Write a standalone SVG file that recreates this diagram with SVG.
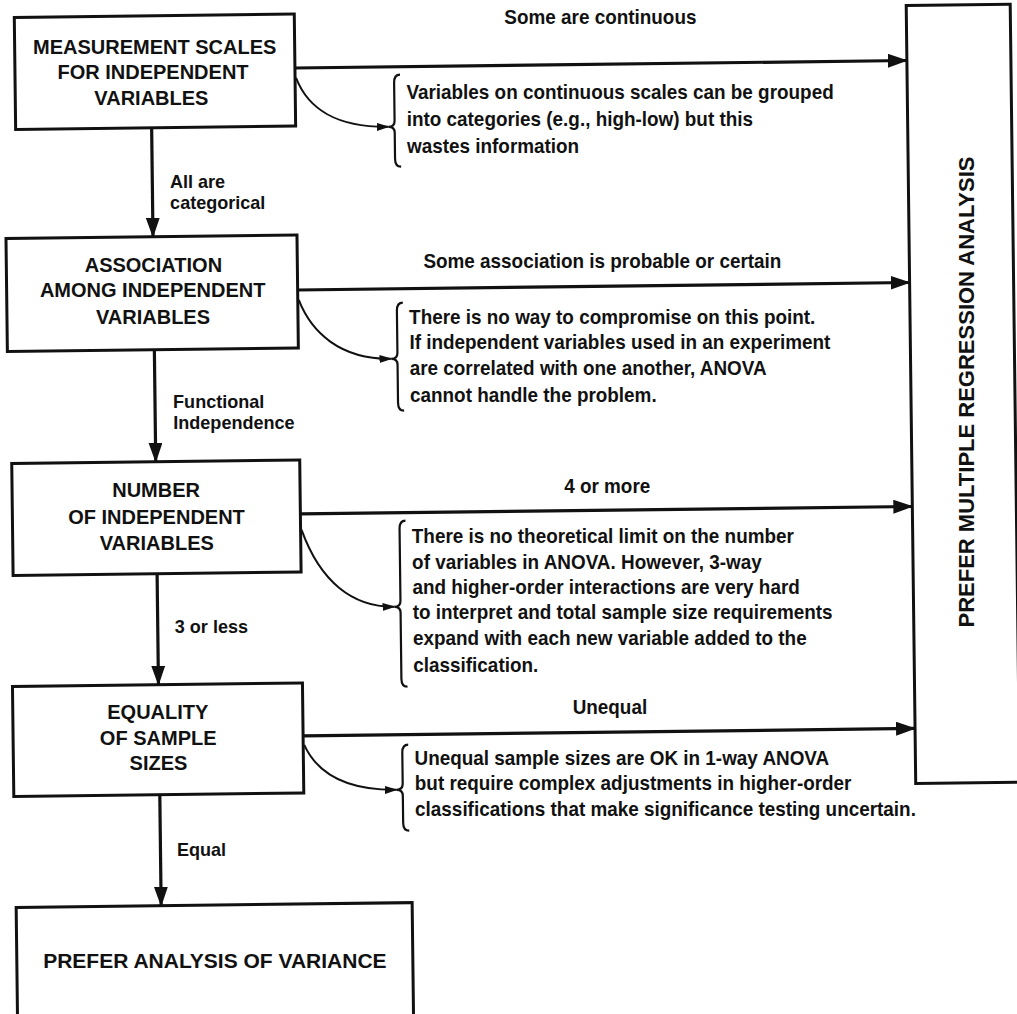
<svg xmlns="http://www.w3.org/2000/svg" width="1017" height="1014" viewBox="0 0 1017 1014">
<defs>
<marker id="ah" markerUnits="userSpaceOnUse" markerWidth="20" markerHeight="14" refX="19" refY="7" orient="auto"><path d="M0,0 L20,7 L0,14 z" fill="#111"/></marker>
<marker id="sh" markerUnits="userSpaceOnUse" markerWidth="13" markerHeight="8" refX="12" refY="4" orient="auto"><path d="M0,0 L13,4 L0,8 z" fill="#111"/></marker>
<style>
.box{fill:#fff;stroke:#111;stroke-width:3}
.bt{font-family:"Liberation Sans",Arial,sans-serif;font-weight:bold;font-size:20px;fill:#111;text-anchor:middle}
.lb{font-family:"Liberation Sans",Arial,sans-serif;font-weight:bold;font-size:21px;fill:#111}
.sl{font-family:"Liberation Sans",Arial,sans-serif;font-weight:bold;font-size:19px;fill:#111}
.main{stroke:#111;stroke-width:3.2;fill:none}
.curve{stroke:#111;stroke-width:2;fill:none}
.brace{stroke:#111;stroke-width:2.2;fill:none}
</style>
</defs>
<rect width="1017" height="1014" fill="#fff"/>
<g id="shapes" transform="rotate(-0.7 460 400)">
<g id="node-measurement"><rect class="box" x="19" y="12" width="280" height="112"/></g>
<g id="node-association"><rect class="box" x="8" y="233" width="291" height="113"/></g>
<g id="node-number"><rect class="box" x="11" y="458" width="288" height="112"/></g>
<g id="node-equality"><rect class="box" x="9" y="681" width="290" height="110"/></g>
<g id="node-anova"><rect class="box" x="10" y="902" width="396" height="140"/></g>
<g id="node-regression"><rect class="box" x="911" y="11" width="104" height="778"/></g>
<g id="braces">
<path class="brace" d="M404,74 Q398,74 398,82 L398,120 Q398,126 392,126 Q398,126 398,132 L398,158 Q398,166 404,166"/>
<path class="brace" d="M404,302 Q398,302 398,310 L398,352 Q398,358 392,358 Q398,358 398,364 L398,402 Q398,410 404,410"/>
<path class="brace" d="M404,520 Q398,520 398,528 L398,600 Q398,606 392,606 Q398,606 398,612 L398,678 Q398,686 404,686"/>
<path class="brace" d="M404,744 Q398,744 398,752 L398,783 Q398,789 392,789 Q398,789 398,795 L398,822 Q398,830 404,830"/>
</g>
<g id="connectors">
<path class="main" d="M155,124 L155,233" marker-end="url(#ah)"/>
<path class="main" d="M155,346 L155,458" marker-end="url(#ah)"/>
<path class="main" d="M155,570 L155,681" marker-end="url(#ah)"/>
<path class="main" d="M155,791 L155,902" marker-end="url(#ah)"/>
<path class="main" d="M299,66 L911,66" marker-end="url(#ah)"/>
<path class="main" d="M299,288 L911,288" marker-end="url(#ah)"/>
<path class="main" d="M299,512 L911,512" marker-end="url(#ah)"/>
<path class="main" d="M299,734 L911,734" marker-end="url(#ah)"/>
<path class="curve" d="M300,76 C312,108 340,126 392,126" marker-end="url(#sh)"/>
<path class="curve" d="M300,298 C312,330 340,358 392,358" marker-end="url(#sh)"/>
<path class="curve" d="M300,528 C318,580 350,606 392,606" marker-end="url(#sh)"/>
<path class="curve" d="M300,743 C312,770 340,789 392,789" marker-end="url(#sh)"/>
</g>
</g>
<g id="node-texts">
<text class="bt" x="154.7" y="53.7">MEASUREMENT SCALES</text>
<text class="bt" x="153" y="79.2">FOR INDEPENDENT</text>
<text class="bt" x="151.4" y="104.7">VARIABLES</text>
<text class="bt" x="153.4" y="271.7">ASSOCIATION</text>
<text class="bt" x="152.7" y="296.7">AMONG INDEPENDENT</text>
<text class="bt" x="153" y="323.7">VARIABLES</text>
<text class="bt" x="156.1" y="497.2">NUMBER</text>
<text class="bt" x="156.5" y="523.7">OF INDEPENDENT</text>
<text class="bt" x="156.8" y="550.2">VARIABLES</text>
<text class="bt" x="157.8" y="719.2">EQUALITY</text>
<text class="bt" x="158.2" y="745.2">OF SAMPLE</text>
<text class="bt" x="158.5" y="770.2">SIZES</text>
<text class="bt" x="214.9" y="967.6" style="font-size:21px">PREFER ANALYSIS OF VARIANCE</text>
<text class="bt" transform="translate(974 392) rotate(-90)" style="font-size:22px">PREFER MULTIPLE REGRESSION ANALYSIS</text>
</g>
<g id="note-texts">
<text class="lb" transform="translate(406.4 99) scale(0.9 1)">Variables on continuous scales can be grouped</text>
<text class="lb" transform="translate(406.7 125.5) scale(0.9 1)">into categories (e.g., high-low) but this</text>
<text class="lb" transform="translate(407 152.6) scale(0.9 1)">wastes information</text>
<text class="lb" transform="translate(409.1 324) scale(0.9 1)">There is no way to compromise on this point.</text>
<text class="lb" transform="translate(409.4 349.4) scale(0.9 1)">If independent variables used in an experiment</text>
<text class="lb" transform="translate(409.7 375.4) scale(0.9 1)">are correlated with one another, ANOVA</text>
<text class="lb" transform="translate(410 401.6) scale(0.9 1)">cannot handle the problem.</text>
<text class="lb" transform="translate(411.8 543.2) scale(0.9 1)">There is no theoretical limit on the number</text>
<text class="lb" transform="translate(412.1 568.5) scale(0.9 1)">of variables in ANOVA.  However, 3-way</text>
<text class="lb" transform="translate(412.4 593.7) scale(0.9 1)">and higher-order interactions are very hard</text>
<text class="lb" transform="translate(412.7 619) scale(0.9 1)">to interpret and total sample size requirements</text>
<text class="lb" transform="translate(413 644.7) scale(0.9 1)">expand with each new variable added to the</text>
<text class="lb" transform="translate(413.3 671.8) scale(0.9 1)">classification.</text>
<text class="lb" transform="translate(414.5 765) scale(0.9 1)">Unequal sample sizes are OK in 1-way ANOVA</text>
<text class="lb" transform="translate(414.8 790.3) scale(0.9 1)">but require complex adjustments in higher-order</text>
<text class="lb" transform="translate(415.1 815.6) scale(0.9 1)">classifications that make significance testing uncertain.</text>
</g>
<g id="edge-labels">
<text class="lb" transform="translate(600.4 24.2) scale(0.9 1)" text-anchor="middle">Some are continuous</text>
<text class="lb" transform="translate(602.4 268.2) scale(0.9 1)" text-anchor="middle">Some association is probable or certain</text>
<text class="lb" transform="translate(607.2 493.2) scale(0.9 1)" text-anchor="middle">4 or more</text>
<text class="lb" transform="translate(609.9 714.2) scale(0.9 1)" text-anchor="middle">Unequal</text>
<text class="sl" transform="translate(169.9 187.5) scale(0.95 1)">All are</text>
<text class="sl" transform="translate(170.1 208.5) scale(0.95 1)">categorical</text>
<text class="sl" transform="translate(173.1 407.5) scale(0.95 1)">Functional</text>
<text class="sl" transform="translate(173.3 428.5) scale(0.95 1)">Independence</text>
<text class="sl" transform="translate(174.8 632.5) scale(0.95 1)">3 or less</text>
<text class="sl" transform="translate(177 855.5) scale(0.95 1)">Equal</text>
</g>
</svg>
